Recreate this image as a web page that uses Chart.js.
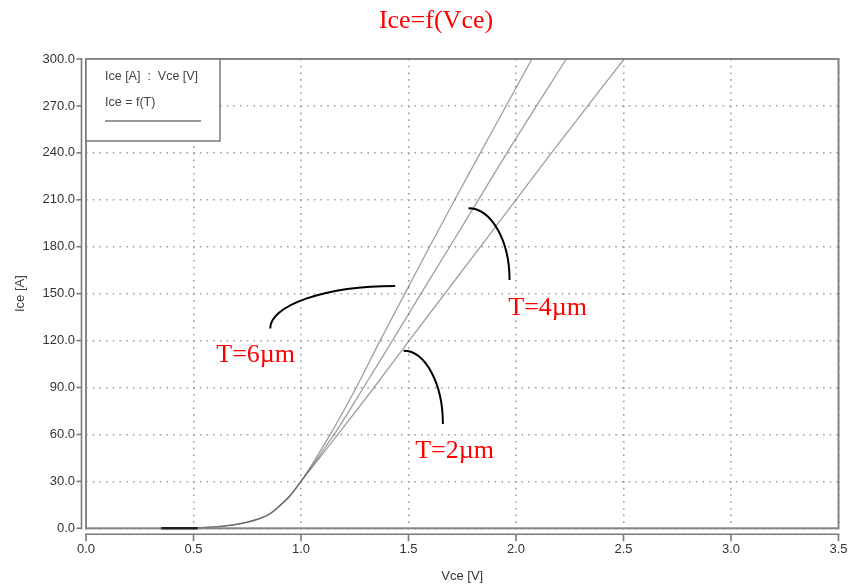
<!DOCTYPE html>
<html><head><meta charset="utf-8">
<script src="https://cdn.jsdelivr.net/npm/chart.js@4/dist/chart.umd.min.js"></script>
<style>html,body{margin:0;padding:0;background:#fff;}#wrap{width:851px;height:586px;}</style>
</head><body><div id="wrap"><canvas id="c" width="851" height="586"></canvas></div>
<script>
// ---- text ----
const chartTitle = 'Ice=f(Vce)';
const xAxisTitle = 'Vce [V]';
const yAxisTitle = 'Ice [A]';
const legendHeader = 'Ice [A]  :  Vce [V]';
const legendLabel = 'Ice = f(T)';
// ---- ticks ----
const xTicks = [0, 0.5, 1.0, 1.5, 2.0, 2.5, 3.0, 3.5];
const yTicks = [0, 30, 60, 90, 120, 150, 180, 210, 240, 270, 300];
// ---- data ----
const lowVce = [0.35, 0.45, 0.52, 0.60, 0.70, 0.80, 0.85, 0.90, 0.95, 1.00];
const lowIce = [0, 0.1, 0.4, 0.9, 2.5, 5.8, 8.8, 14.3, 21.0, 30.0];
const highIce = [60, 90, 120, 150, 180, 210, 240, 300];
const vceT6 = [1.136, 1.257, 1.368, 1.483, 1.598, 1.715, 1.834, 2.074];
const vceT4 = [1.154, 1.291, 1.425, 1.558, 1.692, 1.825, 1.958, 2.234];
const vceT2 = [1.172, 1.340, 1.503, 1.669, 1.835, 2.000, 2.165, 2.503];
const seriesNames = ['T=6µm', 'T=4µm', 'T=2µm'];
// dark overlapping start segment on the zero line
const startVce = [0.35, 0.52];
const startIce = [0, 0];

// annotation placement (data units)
const notes = [
  {text: 'T=6µm', lx: 0.606, ly: 106.5, sx: 0.857, sy: 127.8, ex: 1.438, ey: 154.9, kind: 'upRight'},
  {text: 'T=4µm', lx: 1.964, ly: 136.3, sx: 1.779, sy: 204.6, ex: 1.970, ey: 158.7, kind: 'rightDown'},
  {text: 'T=2µm', lx: 1.531, ly: 44.7,  sx: 1.477, sy: 113.5, ex: 1.660, ey: 66.7,  kind: 'rightDown'}
];

function buildPoints(vHigh) {
  const pts = lowVce.map((v, i) => ({x: v, y: lowIce[i]}));
  vHigh.forEach((v, i) => pts.push({x: v, y: highIce[i]}));
  return pts;
}
const allSeries = [vceT6, vceT4, vceT2];

const decor = {
  id: 'decor',
  afterDatasetsDraw(chart) {
    const {ctx, chartArea: a, scales: {x, y}} = chart;
    ctx.save();
    // frame
    ctx.strokeStyle = '#858585'; ctx.lineWidth = 2;
    ctx.strokeRect(a.left, a.top, a.right - a.left, a.bottom - a.top);
    // offset y axis
    const ax = a.left - 4.5;
    ctx.lineWidth = 1.6; ctx.strokeStyle = '#7a7a7a';
    ctx.beginPath(); ctx.moveTo(ax, y.getPixelForValue(yTicks[yTicks.length-1]) - 1); ctx.lineTo(ax, y.getPixelForValue(0) + 1); ctx.stroke();
    y.ticks.forEach(t => { const py = y.getPixelForValue(t.value); ctx.beginPath(); ctx.moveTo(ax - 5, py); ctx.lineTo(ax, py); ctx.stroke(); });
    // offset x axis
    const ay = a.bottom + 6;
    ctx.beginPath(); ctx.moveTo(x.getPixelForValue(0) - 1, ay); ctx.lineTo(x.getPixelForValue(xTicks[xTicks.length-1]) + 1, ay); ctx.stroke();
    x.ticks.forEach(t => { const px = x.getPixelForValue(t.value); ctx.beginPath(); ctx.moveTo(px, ay); ctx.lineTo(px, ay + 7); ctx.stroke(); });
    // dark start segment over the frame line
    ctx.strokeStyle = '#222'; ctx.lineWidth = 2.5;
    ctx.beginPath(); ctx.moveTo(x.getPixelForValue(startVce[0]), y.getPixelForValue(startIce[0]));
    ctx.lineTo(x.getPixelForValue(startVce[1]), y.getPixelForValue(startIce[1])); ctx.stroke();
    // legend box
    const lx = a.left, ly = a.top, lw = 134, lh = 82;
    ctx.fillStyle = '#fff'; ctx.fillRect(lx, ly, lw, lh);
    ctx.strokeStyle = '#7a7a7a'; ctx.lineWidth = 1.5; ctx.strokeRect(lx, ly, lw, lh);
    ctx.fillStyle = '#444'; ctx.font = '12.5px "Liberation Sans", Arial, sans-serif';
    ctx.textAlign = 'left'; ctx.textBaseline = 'middle';
    ctx.fillText(legendHeader, lx + 19, ly + 18);
    ctx.fillText(legendLabel, lx + 19, ly + 44);
    ctx.strokeStyle = '#999'; ctx.lineWidth = 2;
    ctx.beginPath(); ctx.moveTo(lx + 19, ly + 62); ctx.lineTo(lx + 115, ly + 62); ctx.stroke();
    ctx.restore();
  },
  afterDraw(chart) {
    const {ctx, scales: {x, y}} = chart;
    ctx.save();
    ctx.fillStyle = '#ff0000';
    ctx.font = '26px "Liberation Serif", "Times New Roman", serif';
    ctx.textAlign = 'center'; ctx.textBaseline = 'alphabetic';
    ctx.fillText(chartTitle, 436, 28);
    ctx.textAlign = 'left';
    notes.forEach(n => {
      ctx.fillStyle = '#ff0000';
      ctx.fillText(n.text, x.getPixelForValue(n.lx), y.getPixelForValue(n.ly));
      const sx = x.getPixelForValue(n.sx), sy = y.getPixelForValue(n.sy);
      const ex = x.getPixelForValue(n.ex), ey = y.getPixelForValue(n.ey);
      ctx.strokeStyle = '#000'; ctx.lineWidth = 2;
      ctx.beginPath();
      if (n.kind === 'upRight') {
        ctx.ellipse(ex, sy, Math.abs(ex - sx), Math.abs(sy - ey), 0, Math.PI, 1.5 * Math.PI);
      } else {
        ctx.ellipse(sx, ey, Math.abs(ex - sx), Math.abs(ey - sy), 0, -0.5 * Math.PI, 0);
      }
      ctx.stroke();
    });
    ctx.restore();
  }
};

const gridStyle = {color: '#a0a0a0', lineWidth: 1.6, drawTicks: false};
const borderStyle = {display: false, dash: [1.6, 5.1]};
const tickFont = {family: '"Liberation Sans", Arial, sans-serif', size: 13};

new Chart(document.getElementById('c'), {
  type: 'line',
  data: {
    datasets: allSeries.map((s, i) => ({
      label: seriesNames[i],
      data: buildPoints(s),
      borderColor: 'rgba(95,95,95,0.6)',
      borderWidth: 1.3,
      pointRadius: 0,
      fill: false,
      cubicInterpolationMode: 'monotone'
    }))
  },
  options: {
    responsive: false,
    animation: false,
    devicePixelRatio: 1,
    layout: {padding: {top: 59, right: 12.5, left: 0, bottom: 0}},
    plugins: {legend: {display: false}, title: {display: false}, tooltip: {enabled: false}},
    scales: {
      x: {
        type: 'linear', min: 0, max: 3.5,
        afterBuildTicks: s => { s.ticks = xTicks.map(v => ({value: v})); },
        ticks: {padding: 13, color: '#333', font: tickFont, callback: v => Number(v).toFixed(1), maxRotation: 0},
        grid: gridStyle,
        border: borderStyle,
        title: {display: true, text: xAxisTitle, color: '#333', font: tickFont, padding: {top: 0, bottom: 2}},
        afterFit: s => { s.height = 57.7; s.paddingLeft = 0; s.paddingRight = 0; }
      },
      y: {
        type: 'linear', min: 0, max: 300,
        afterBuildTicks: s => { s.ticks = yTicks.map(v => ({value: v})); },
        ticks: {padding: 11, color: '#333', font: tickFont, callback: v => Number(v).toFixed(1)},
        grid: gridStyle,
        border: borderStyle,
        title: {display: true, text: yAxisTitle, color: '#444', font: tickFont, padding: {top: 13, bottom: 0}},
        afterFit: s => { s.width = 86; s.paddingTop = 0; s.paddingBottom = 0; }
      }
    }
  },
  plugins: [decor]
});
</script></body></html>
